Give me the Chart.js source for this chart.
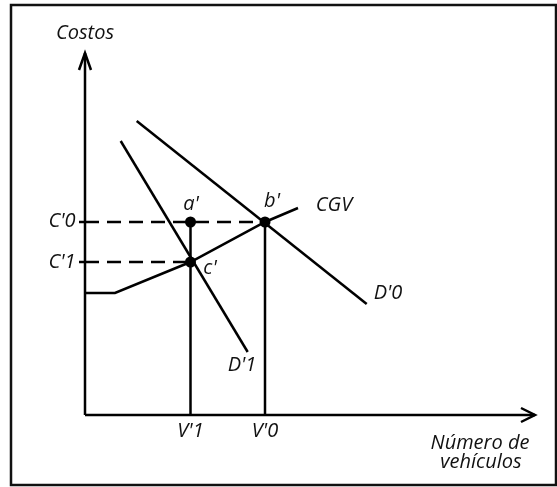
<!DOCTYPE html>
<html>
<head>
<meta charset="utf-8">
<script src="https://cdn.jsdelivr.net/npm/chart.js@4/dist/chart.umd.min.js"></script>
<style>
  html, body { margin: 0; padding: 0; background: #fff; }
  #wrap { position: relative; width: 557px; height: 487px; }
</style>
</head>
<body>
<div id="wrap"><canvas id="c"></canvas></div>
<script>
// ---- Data (abstract diagram units: x = número de vehículos, y = costos) ----
const yAxisLine   = [[0, 0], [0, 362]];
const yAxisArrow  = [[-6, 345], [0, 362], [6, 345]];
const xAxisLine   = [[0, 0], [450, 0]];
const xAxisArrow  = [[436, 7], [450, 0], [436, -7]];

const cgvCurve    = [[0, 122], [30, 122], [105.5, 153], [180, 193], [213, 207]];
const demandD0    = [[51.7, 294], [281.7, 111]];
const demandD1    = [[35.7, 274], [162.7, 63]];

const vLineV1     = [[105.5, 0], [105.5, 193]];
const vLineV0     = [[180, 0], [180, 193]];
const dashC0      = [[0, 193], [180, 193]];
const dashC1      = [[0, 153], [105.5, 153]];
const tickC0      = [[-6, 193], [0, 193]];
const tickC1      = [[-6, 153], [0, 153]];

const pointsABC   = [[105.5, 193], [180, 193], [105.5, 153]]; // a', b', c'

const labelTexts  = ["Costos", "a'", "b'", "c'", "CGV", "C'0", "C'1", "V'1", "V'0", "D'0", "D'1", "Número de", "vehículos"];
const labelX      = [0, 106, 187, 125, 249, -23, -23, 105.5, 180, 303, 157, 395, 396];
const labelY      = [382, 211, 213.5, 147, 210, 194, 153, -16, -16, 122, 50, -28, -47];

// ---- build ----
const toPts = arr => arr.map(p => ({x: p[0], y: p[1]}));
function lineDs(arr, extra) {
  return Object.assign({
    data: toPts(arr), showLine: true, borderColor: '#000', borderWidth: 2.5,
    pointRadius: 0, fill: false, tension: 0, borderCapStyle: 'butt', borderJoinStyle: 'miter',
    clip: false
  }, extra || {});
}

const labelPlugin = {
  id: 'labels',
  afterDatasetsDraw(chart) {
    const ctx = chart.ctx, xs = chart.scales.x, ys = chart.scales.y;
    ctx.save();
    ctx.fillStyle = '#111';
    ctx.font = 'italic 20px "Open Sans"';
    ctx.textAlign = 'center';
    ctx.textBaseline = 'middle';
    labelTexts.forEach((t, i) => {
      ctx.fillText(t, xs.getPixelForValue(labelX[i]), ys.getPixelForValue(labelY[i]));
    });
    ctx.restore();
  }
};

const framePlugin = {
  id: 'frame',
  afterDraw(chart) {
    const ctx = chart.ctx;
    ctx.save();
    ctx.strokeStyle = '#111';
    ctx.lineWidth = 2.5;
    ctx.strokeRect(11, 5, 545, 480);
    ctx.restore();
  }
};

new Chart(document.getElementById('c'), {
  type: 'scatter',
  data: {
    datasets: [
      lineDs(yAxisLine), lineDs(yAxisArrow), lineDs(xAxisLine), lineDs(xAxisArrow),
      lineDs(cgvCurve), lineDs(demandD0), lineDs(demandD1),
      lineDs(vLineV1), lineDs(vLineV0),
      lineDs(dashC0, {borderDash: [14, 8]}), lineDs(dashC1, {borderDash: [14, 8]}),
      lineDs(tickC0), lineDs(tickC1),
      { data: toPts(pointsABC), showLine: false, pointRadius: 5.5, pointHoverRadius: 5.5,
        backgroundColor: '#000', borderColor: '#000', borderWidth: 0, clip: false }
    ]
  },
  options: {
    responsive: true, maintainAspectRatio: false, animation: false,
    layout: { padding: 0, autoPadding: false },
    plugins: { legend: { display: false }, tooltip: { enabled: false } },
    events: [],
    scales: {
      x: { type: 'linear', min: -85, max: 472, display: false },
      y: { type: 'linear', min: -72, max: 415, display: false }
    }
  },
  plugins: [labelPlugin, framePlugin]
});
</script>
</body>
</html>
